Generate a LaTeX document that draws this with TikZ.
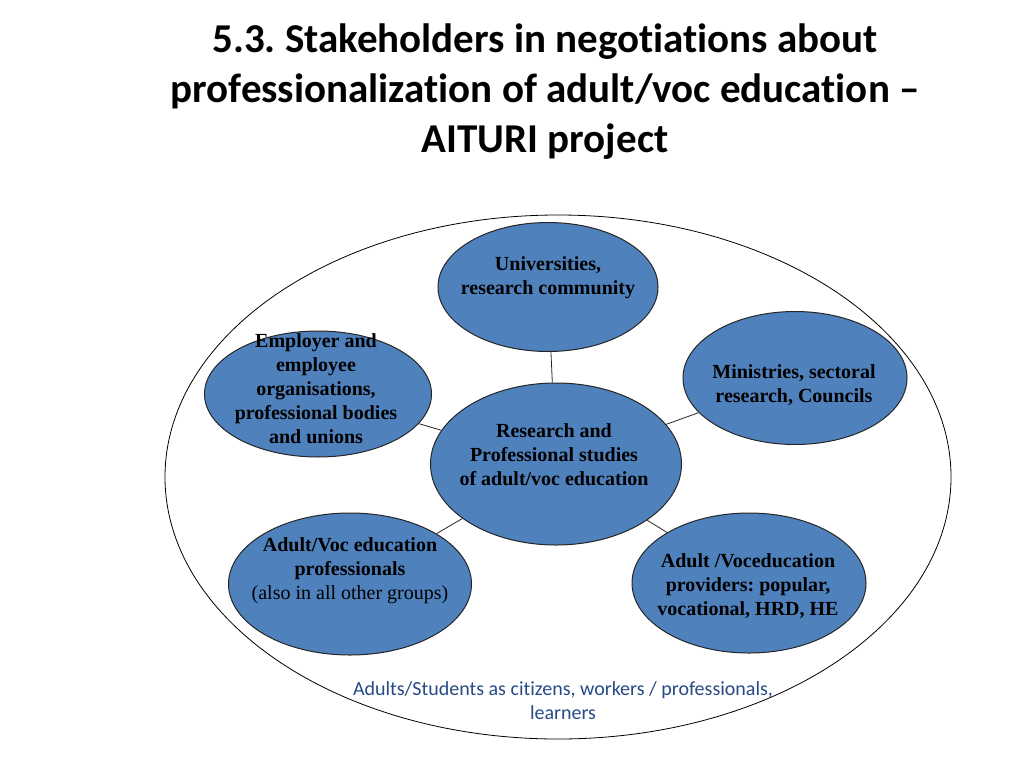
\documentclass[tikz,border=0pt]{standalone}
\usepackage{fontspec}
\setmainfont{Liberation Serif}
\newfontfamily\slidefont[Ligatures={NoCommon,NoDiscretionary}]{Carlito}
\usetikzlibrary{shapes.geometric}
\definecolor{stakeblue}{HTML}{4F81BD}
\definecolor{notetext}{HTML}{264A86}
\tikzset{
  stake/.style={ellipse, draw=black!85, line width=1pt, fill=stakeblue, inner sep=0pt},
  staketext/.style={align=center, font=\fontsize{20}{24}\selectfont\bfseries, inner sep=0pt},
  link/.style={draw=black!85, line width=0.8pt}
}
\frenchspacing
\begin{document}
\begin{tikzpicture}[x=1pt, y=-1pt]
\useasboundingbox (0,0) rectangle (1024,768);

% title
\node[align=center, font=\slidefont\fontsize{41}{50}\selectfont\bfseries] (title) at (545,92)
  {5.3. Stakeholders in negotiations about\\professionalization of adult/voc education \textendash\\AITURI project};

% outer ring
\draw[line width=0.8pt] (558,477) ellipse (393 and 262);

% stakeholder ellipses
\node[stake, minimum width=220, minimum height=129] (univ) at (548,287) {};
\node[stake, minimum width=227, minimum height=126] (employ) at (318,394) {};
\node[stake, minimum width=224, minimum height=133] (minis) at (795,378) {};
\node[stake, minimum width=251, minimum height=162] (studies) at (556,464) {};
\node[stake, minimum width=243, minimum height=142] (profs) at (350,584) {};
\node[stake, minimum width=234, minimum height=140] (provid) at (749,583) {};

\draw[link] (univ) -- (studies);
\draw[link] (employ) -- (studies);
\draw[link] (minis) -- (studies);
\draw[link] (profs) -- (studies);
\draw[link] (provid) -- (studies);

% texts
\node[staketext] (univt) at (548,278) {Universities,\\research community};
\node[staketext] (employt) at (316,389) {Employer and\\employee\\organisations,\\professional bodies\\and unions};
\node[staketext] (minist) at (794,385) {Ministries, sectoral\\research, Councils};
\node[staketext] (studiest) at (554,455) {Research and\\Professional studies\\of adult/voc education};
\node[staketext] (profst) at (350,571) {Adult/Voc education\\professionals\\{\mdseries(also in all other groups)}};
\node[staketext] (providt) at (748,586) {Adult /Voceducation\\providers: popular,\\vocational, HRD, HE};

\node[align=center, text=notetext, font=\slidefont\fontsize{20}{24}\selectfont, inner sep=0pt] (learners) at (563,701)
  {Adults/Students as citizens, workers / professionals,\\learners};
\end{tikzpicture}
\end{document}
